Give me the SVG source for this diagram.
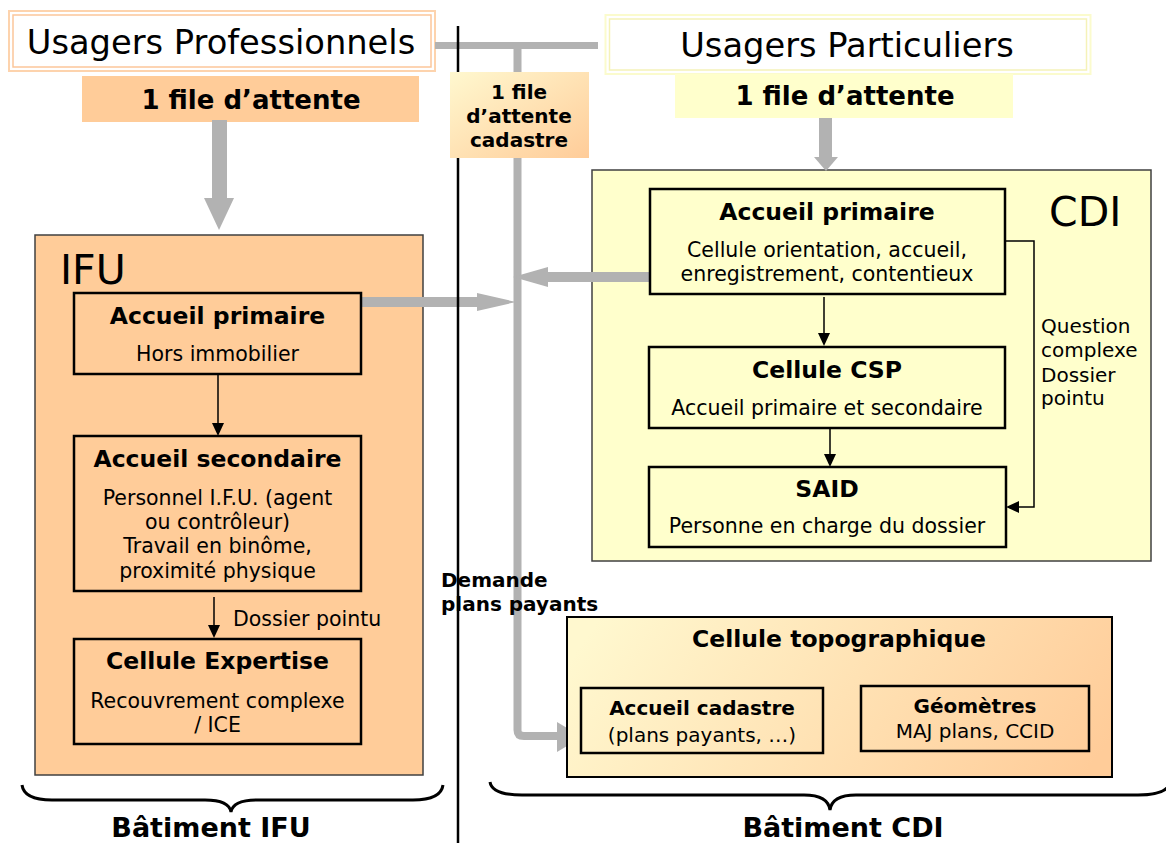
<svg xmlns="http://www.w3.org/2000/svg" width="1166" height="843" viewBox="0 0 1166 843">
<style>
text{font-family:"DejaVu Sans","Liberation Sans",sans-serif;fill:#000}
.c{text-anchor:middle}
.b{font-weight:bold}
.t{font-size:23.5px;font-weight:bold}
.s{font-size:20.5px}
.q{font-size:20px}
.box{stroke:#000;stroke-width:2.5}
.big{stroke:#404040;stroke-width:1.5}
.g{fill:none;stroke:#b2b2b2}
.ga{fill:#b2b2b2}
.k{fill:none;stroke:#000;stroke-width:1.5}
.kh{fill:#000}
.brace{fill:none;stroke:#000;stroke-width:3}
</style>
<defs>
<linearGradient id="gq" x1="0" y1="0" x2="1" y2="1">
<stop offset="0" stop-color="#fff8cf"/>
<stop offset="1" stop-color="#ffcc99"/>
</linearGradient>
<linearGradient id="gt" gradientUnits="userSpaceOnUse" x1="640" y1="560" x2="1040" y2="840">
<stop offset="0" stop-color="#fff8cf"/>
<stop offset="1" stop-color="#ffcc99"/>
</linearGradient>
</defs>
<rect width="1166" height="843" fill="#fff"/>

<g id="usagers-pro">
<rect x="9" y="11" width="426" height="60" fill="#fff" stroke="#fdd3ad" stroke-width="2"/>
<rect x="13" y="15" width="418" height="52" fill="none" stroke="#fcc69a" stroke-width="1.5"/>
<text class="c" x="221" y="54" font-size="33.7">Usagers Professionnels</text>
</g>
<g id="file-pro">
<rect x="82" y="76" width="337" height="46" fill="#ffcc99"/>
<text class="c b" x="251" y="109" font-size="26">1 file d’attente</text>
</g>
<g id="usagers-part">
<rect x="605.5" y="15" width="485" height="59" fill="#fff" stroke="#fbfbcd" stroke-width="2"/>
<rect x="609.5" y="19" width="477" height="51" fill="none" stroke="#f5f2b8" stroke-width="1.5"/>
<text class="c" x="847" y="57" font-size="33.7">Usagers Particuliers</text>
</g>
<g id="file-part">
<rect x="675" y="74" width="338" height="44" fill="#ffffcc"/>
<text class="c b" x="845" y="105" font-size="26">1 file d’attente</text>
</g>

<g id="ifu">
<rect class="big" x="35" y="235" width="388" height="540" fill="#ffcc99"/>
<text x="60" y="284" font-size="41">IFU</text>
</g>
<g id="cdi">
<rect class="big" x="592" y="170" width="559" height="391" fill="#ffffcc"/>
<text x="1049" y="226" font-size="41">CDI</text>
</g>

<g id="connectors">
<path class="g" stroke-width="7" d="M435 45.5 H598"/>
<path class="g" stroke-width="8" d="M517.5 42 V730 Q517.5 736 524 736 H558" stroke-linejoin="round"/>
<polygon class="ga" points="557,722 557,752 582,737"/>
<rect class="ga" x="212" y="120" width="15" height="79"/>
<polygon class="ga" points="204,198 234,198 219,230"/>
<rect class="ga" x="819" y="118" width="13" height="40"/>
<polygon class="ga" points="814,157 838,157 826,171"/>
<rect class="ga" x="361" y="297" width="117" height="10"/>
<polygon class="ga" points="477,293 477,311 516,302"/>
<rect class="ga" x="547" y="272" width="106" height="10"/>
<polygon class="ga" points="548,267 548,287 513,277"/>
<path d="M458 26 V843" stroke="#000" stroke-width="2.5"/>
<path class="k" d="M218 374 V424"/>
<polygon class="kh" points="212,423 224,423 218,436"/>
<path class="k" d="M214 597 V626"/>
<polygon class="kh" points="208,625 220,625 214,638"/>
<path class="k" d="M824 297 V334"/>
<polygon class="kh" points="818,333 830,333 824,346"/>
<path class="k" d="M830 428 V455"/>
<polygon class="kh" points="824,454 836,454 830,467"/>
<path class="k" d="M1005 241 H1034 V507 H1018"/>
<polygon class="kh" points="1019,501 1019,513 1006,507"/>
</g>

<g id="cadastre-queue">
<rect x="450" y="72" width="139" height="86" fill="url(#gq)"/>
<text class="c b" font-size="20" x="519" y="99">1 file</text>
<text class="c b" font-size="20" x="519" y="123">d’attente</text>
<text class="c b" font-size="20" x="519" y="147">cadastre</text>
</g>

<g id="ifu-accueil-primaire">
<rect class="box" x="74" y="293" width="287" height="81" fill="#ffcc99"/>
<text class="c t" x="217.5" y="324">Accueil primaire</text>
<text class="c s" x="217.5" y="361">Hors immobilier</text>
</g>
<g id="ifu-accueil-secondaire">
<rect class="box" x="74" y="436" width="287" height="155" fill="#ffcc99"/>
<text class="c t" x="217.5" y="467">Accueil secondaire</text>
<text class="c s" x="217.5" y="505">Personnel I.F.U. (agent</text>
<text class="c s" x="217.5" y="529">ou contrôleur)</text>
<text class="c s" x="217.5" y="553">Travail en binôme,</text>
<text class="c s" x="217.5" y="578">proximité physique</text>
</g>
<g id="dossier-pointu-label">
<text class="s" x="233" y="626">Dossier pointu</text>
</g>
<g id="ifu-cellule-expertise">
<rect class="box" x="74" y="639" width="287" height="105" fill="#ffcc99"/>
<text class="c t" x="217.5" y="669">Cellule Expertise</text>
<text class="c s" x="217.5" y="708">Recouvrement complexe</text>
<text class="c s" x="217.5" y="732">/ ICE</text>
</g>

<g id="cdi-accueil-primaire">
<rect class="box" x="650" y="189" width="355" height="105" fill="#ffffcc"/>
<text class="c t" x="827" y="220">Accueil primaire</text>
<text class="c s" x="827" y="257">Cellule orientation, accueil,</text>
<text class="c s" x="827" y="281">enregistrement, contentieux</text>
</g>
<g id="cdi-cellule-csp">
<rect class="box" x="649" y="347" width="356" height="81" fill="#ffffcc"/>
<text class="c t" x="827" y="378">Cellule CSP</text>
<text class="c s" x="827" y="415">Accueil primaire et secondaire</text>
</g>
<g id="cdi-said">
<rect class="box" x="649" y="467" width="357" height="80" fill="#ffffcc"/>
<text class="c t" x="827" y="497">SAID</text>
<text class="c s" x="827" y="533">Personne en charge du dossier</text>
</g>
<g id="question-label">
<text class="q" x="1041" y="333">Question</text>
<text class="q" x="1041" y="357">complexe</text>
<text class="q" x="1041" y="382">Dossier</text>
<text class="q" x="1041" y="405">pointu</text>
</g>

<g id="demande-label">
<text class="b" font-size="20" x="441" y="587">Demande</text>
<text class="b" font-size="20" x="441" y="611">plans payants</text>
</g>

<g id="cellule-topo">
<rect x="567" y="617" width="545" height="160" fill="url(#gt)" stroke="#000" stroke-width="2"/>
<text class="c t" x="839" y="647">Cellule topographique</text>
</g>
<g id="accueil-cadastre">
<rect class="box" x="581" y="688" width="242" height="65" fill="url(#gt)"/>
<text class="c b" font-size="20" x="702" y="715">Accueil cadastre</text>
<text class="c q" x="702" y="742">(plans payants, …)</text>
</g>
<g id="geometres">
<rect class="box" x="861" y="686" width="228" height="65" fill="url(#gt)"/>
<text class="c b" font-size="20" x="975" y="713">Géomètres</text>
<text class="c q" x="975" y="738">MAJ plans, CCID</text>
</g>

<g id="batiment-ifu">
<path class="brace" d="M22 785 Q24 800 52 800 L205 800 Q229 800 231 812 Q233 800 257 800 L413 800 Q441 800 443 785"/>
<text class="c b" x="211" y="837" font-size="27">Bâtiment IFU</text>
</g>
<g id="batiment-cdi">
<path class="brace" d="M490 782 Q492 795 522 795 L804 795 Q828 795 830 810 Q832 795 856 795 L1138 795 Q1168 795 1170 782"/>
<text class="c b" x="843" y="837" font-size="27">Bâtiment CDI</text>
</g>
</svg>
